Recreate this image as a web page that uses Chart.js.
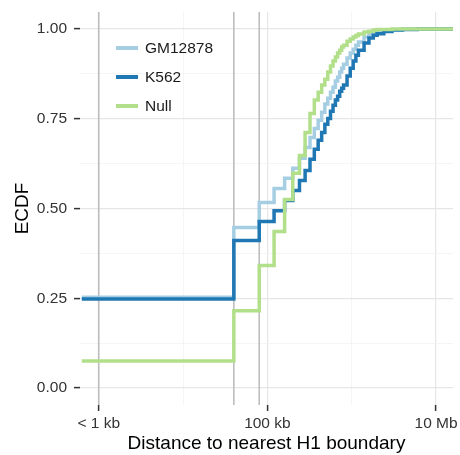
<!DOCTYPE html>
<html>
<head>
<meta charset="utf-8">
<script src="https://cdn.jsdelivr.net/npm/chart.js@4.4.1/dist/chart.umd.min.js"></script>
<style>
  html, body { margin: 0; padding: 0; background: #fff; }
  #wrap { width: 460px; height: 455px; }
</style>
</head>
<body>
<div id="wrap"><canvas id="ecdf" width="460" height="455"></canvas></div>
<script>
// distance to nearest boundary, kb (first bucket is the "< 1 kb" group, then 40 kb bins)
const distKb = [0.63,
  40, 80, 120, 160, 200, 240, 280, 320, 360, 400,
  440, 480, 520, 560, 600, 640, 680, 720, 760, 800,
  880, 960, 1040, 1120, 1200,
  1400, 1600, 1800, 2000,
  2400, 3000,
  4000, 6000, 8000, 12000,
  15870];

// cumulative fraction at each distance
const gm12878 = [0.253,
  0.447, 0.517, 0.556, 0.584, 0.612, 0.640, 0.670, 0.698, 0.723, 0.746,
  0.768, 0.791, 0.807, 0.824, 0.838, 0.855, 0.866, 0.880, 0.891, 0.902,
  0.919, 0.933, 0.944, 0.955, 0.964,
  0.978, 0.986, 0.992, 0.994,
  0.997, 0.999,
  1, 1, 1, 1,
  1];
const k562 = [0.248,
  0.411, 0.464, 0.494, 0.522, 0.550, 0.578, 0.606, 0.637, 0.665, 0.690,
  0.712, 0.735, 0.751, 0.771, 0.788, 0.802, 0.813, 0.827, 0.835, 0.844,
  0.869, 0.891, 0.911, 0.927, 0.941,
  0.961, 0.975, 0.983, 0.987,
  0.993, 0.997,
  0.999, 1, 1, 1,
  1];
const nullModel = [0.075,
  0.215, 0.341, 0.436, 0.525, 0.598, 0.648, 0.712, 0.765, 0.802, 0.824,
  0.844, 0.860, 0.880, 0.897, 0.911, 0.922, 0.933, 0.941, 0.950, 0.955,
  0.966, 0.972, 0.978, 0.982, 0.986,
  0.992, 0.994, 0.997, 0.999,
  0.999, 1,
  1, 1, 1, 1,
  1];

const seriesNames = ['GM12878', 'K562', 'Null'];
const seriesColors = ['#a6cee3', '#1f78b4', '#b2df8a'];

// reference distances marked with vertical rules
const markerKb = [1, 40, 80];

const xTickKb = [1, 10, 100, 1000, 10000];
const xTickLabels = ['< 1 kb', '', '100 kb', '', '10 Mb'];
const xMajor = [1, 100, 10000];
const yTicks = [0, 0.125, 0.25, 0.375, 0.5, 0.625, 0.75, 0.875, 1];
const yTickLabels = ['0.00', '', '0.25', '', '0.50', '', '0.75', '', '1.00'];

const X_MIN = 0.631, X_MAX = 15870;
const Y_MIN = -0.0475, Y_MAX = 1.0475;

const FONT = '"Liberation Sans", Arial, sans-serif';

function ecdfPoints(vals) {
  const pts = [{ x: distKb[0], y: 0 }];
  vals.forEach((v, i) => pts.push({ x: distKb[i], y: v }));
  return pts;
}

// 'before' = hold previous level, then jump at the new x
const curveSets = [gm12878, k562, nullModel].map((vals, i) => ({
  label: seriesNames[i],
  data: ecdfPoints(vals),
  borderColor: seriesColors[i],
  borderWidth: 3.5,
  stepped: 'before',
  pointRadius: 0,
  fill: false,
  order: 2 - i
}));

const ruleSets = markerKb.map(kb => ({
  label: 'rule ' + kb,
  data: [{ x: kb, y: Y_MIN }, { x: kb, y: Y_MAX }],
  borderColor: '#bdbdbd',
  borderWidth: 1.6,
  pointRadius: 0,
  fill: false,
  order: 5
}));

// legend drawn inside the panel, top-left
const insideLegend = {
  id: 'insideLegend',
  afterDatasetsDraw(chart) {
    const { ctx, chartArea } = chart;
    ctx.save();
    ctx.font = '15.5px ' + FONT;
    ctx.textBaseline = 'middle';
    ctx.textAlign = 'left';
    seriesNames.forEach((name, i) => {
      const y = chartArea.top + 36 + i * 29;
      ctx.strokeStyle = seriesColors[i];
      ctx.lineWidth = 4;
      ctx.beginPath();
      ctx.moveTo(chartArea.left + 36, y);
      ctx.lineTo(chartArea.left + 58, y);
      ctx.stroke();
      ctx.fillStyle = '#1a1a1a';
      ctx.fillText(name, chartArea.left + 65, y + 1);
    });
    ctx.restore();
  }
};

new Chart(document.getElementById('ecdf'), {
  type: 'line',
  data: { datasets: curveSets.concat(ruleSets) },
  options: {
    responsive: false,
    animation: false,
    devicePixelRatio: 1,
    layout: { padding: { top: 12, right: 7, left: 0, bottom: 0 } },
    plugins: { legend: { display: false }, tooltip: { enabled: false } },
    scales: {
      x: {
        type: 'logarithmic',
        min: X_MIN,
        max: X_MAX,
        afterBuildTicks: s => { s.ticks = xTickKb.map(v => ({ value: v })); },
        afterFit: s => { s.height = 50; s.paddingLeft = 0; s.paddingRight = 0; },
        border: { display: false },
        grid: {
          color: c => xMajor.includes(c.tick && c.tick.value) ? '#e6e6e6' : '#f3f3f3',
          lineWidth: c => xMajor.includes(c.tick && c.tick.value) ? 1.2 : 0.8,
          tickColor: c => xMajor.includes(c.tick && c.tick.value) ? '#333' : 'rgba(0,0,0,0)',
          tickWidth: 1.5,
          tickLength: 6
        },
        ticks: {
          autoSkip: false,
          maxRotation: 0,
          padding: 3,
          color: '#333',
          font: { family: FONT, size: 15.5 },
          callback: (v, i) => xTickLabels[i]
        },
        title: {
          display: true,
          text: 'Distance to nearest H1 boundary',
          color: '#000',
          font: { family: FONT, size: 19 },
          padding: { top: 0, bottom: 0 }
        }
      },
      y: {
        type: 'linear',
        min: Y_MIN,
        max: Y_MAX,
        afterBuildTicks: s => { s.ticks = yTicks.map(v => ({ value: v })); },
        afterFit: s => { s.width = 80; s.paddingTop = 0; s.paddingBottom = 0; },
        border: { display: false },
        grid: {
          color: c => (c.index % 2 === 0) ? '#e6e6e6' : '#f3f3f3',
          lineWidth: c => (c.index % 2 === 0) ? 1.2 : 0.8,
          tickColor: c => (c.index % 2 === 0) ? '#333' : 'rgba(0,0,0,0)',
          tickWidth: 1.5,
          tickLength: 6
        },
        ticks: {
          autoSkip: false,
          padding: 7,
          color: '#333',
          font: { family: FONT, size: 15.5 },
          callback: (v, i) => yTickLabels[i]
        },
        title: {
          display: true,
          text: 'ECDF',
          color: '#000',
          font: { family: FONT, size: 19 },
          padding: { top: 11, bottom: 0 }
        }
      }
    }
  },
  plugins: [insideLegend]
});
</script>
</body>
</html>
